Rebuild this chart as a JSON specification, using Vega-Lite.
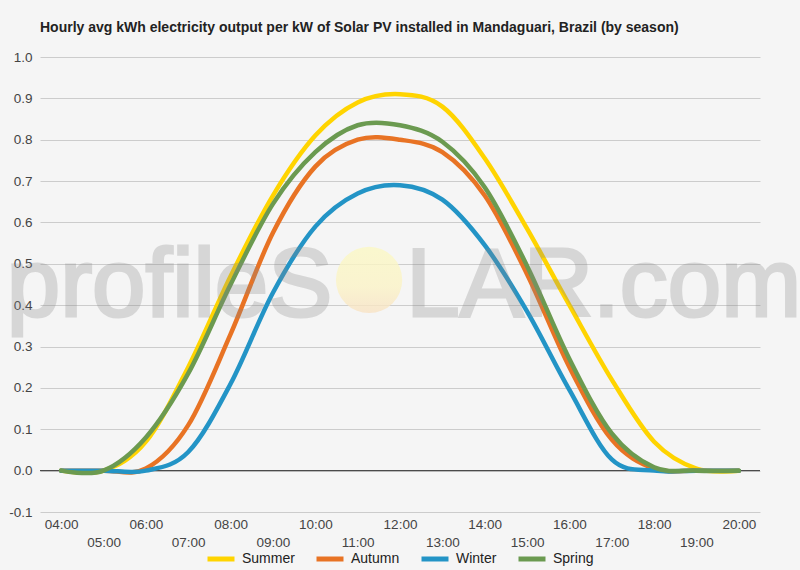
{
  "$schema": "https://vega.github.io/schema/vega-lite/v6.json",
  "autosize": "none",
  "width": 720,
  "height": 455,
  "padding": {"left": 40, "top": 57, "right": 40, "bottom": 58},
  "background": "#f5f5f5",
  "title": {
    "text": "Hourly avg kWh electricity output per kW of Solar PV installed in Mandaguari, Brazil (by season)",
    "anchor": "start",
    "frame": "group",
    "font": "Liberation Sans",
    "fontSize": 14,
    "fontWeight": "bold",
    "color": "#222222",
    "baseline": "alphabetic",
    "offset": 4
  },
  "config": {
    "view": {"stroke": null},
    "font": "Liberation Sans"
  },
  "datasets": {
    "output": [
      {"hour": 4, "season": "Summer", "kwh": 0},
      {"hour": 5, "season": "Summer", "kwh": 0},
      {"hour": 6, "season": "Summer", "kwh": 0.07},
      {"hour": 7, "season": "Summer", "kwh": 0.25},
      {"hour": 8, "season": "Summer", "kwh": 0.47},
      {"hour": 9, "season": "Summer", "kwh": 0.665},
      {"hour": 10, "season": "Summer", "kwh": 0.81},
      {"hour": 11, "season": "Summer", "kwh": 0.89},
      {"hour": 12, "season": "Summer", "kwh": 0.91},
      {"hour": 13, "season": "Summer", "kwh": 0.88},
      {"hour": 14, "season": "Summer", "kwh": 0.755},
      {"hour": 15, "season": "Summer", "kwh": 0.585},
      {"hour": 16, "season": "Summer", "kwh": 0.4},
      {"hour": 17, "season": "Summer", "kwh": 0.22},
      {"hour": 18, "season": "Summer", "kwh": 0.07},
      {"hour": 19, "season": "Summer", "kwh": 0.005},
      {"hour": 20, "season": "Summer", "kwh": 0},
      {"hour": 4, "season": "Autumn", "kwh": 0},
      {"hour": 5, "season": "Autumn", "kwh": 0},
      {"hour": 6, "season": "Autumn", "kwh": 0.005},
      {"hour": 7, "season": "Autumn", "kwh": 0.11},
      {"hour": 8, "season": "Autumn", "kwh": 0.33},
      {"hour": 9, "season": "Autumn", "kwh": 0.575},
      {"hour": 10, "season": "Autumn", "kwh": 0.735},
      {"hour": 11, "season": "Autumn", "kwh": 0.8},
      {"hour": 12, "season": "Autumn", "kwh": 0.8},
      {"hour": 13, "season": "Autumn", "kwh": 0.77},
      {"hour": 14, "season": "Autumn", "kwh": 0.665},
      {"hour": 15, "season": "Autumn", "kwh": 0.475},
      {"hour": 16, "season": "Autumn", "kwh": 0.25},
      {"hour": 17, "season": "Autumn", "kwh": 0.075},
      {"hour": 18, "season": "Autumn", "kwh": 0.005},
      {"hour": 19, "season": "Autumn", "kwh": 0},
      {"hour": 20, "season": "Autumn", "kwh": 0},
      {"hour": 4, "season": "Winter", "kwh": 0},
      {"hour": 5, "season": "Winter", "kwh": 0},
      {"hour": 6, "season": "Winter", "kwh": 0},
      {"hour": 7, "season": "Winter", "kwh": 0.045},
      {"hour": 8, "season": "Winter", "kwh": 0.21},
      {"hour": 9, "season": "Winter", "kwh": 0.43},
      {"hour": 10, "season": "Winter", "kwh": 0.59},
      {"hour": 11, "season": "Winter", "kwh": 0.67},
      {"hour": 12, "season": "Winter", "kwh": 0.69},
      {"hour": 13, "season": "Winter", "kwh": 0.655},
      {"hour": 14, "season": "Winter", "kwh": 0.545},
      {"hour": 15, "season": "Winter", "kwh": 0.385},
      {"hour": 16, "season": "Winter", "kwh": 0.195},
      {"hour": 17, "season": "Winter", "kwh": 0.027},
      {"hour": 18, "season": "Winter", "kwh": 0},
      {"hour": 19, "season": "Winter", "kwh": 0},
      {"hour": 20, "season": "Winter", "kwh": 0},
      {"hour": 4, "season": "Spring", "kwh": 0},
      {"hour": 5, "season": "Spring", "kwh": 0},
      {"hour": 6, "season": "Spring", "kwh": 0.08},
      {"hour": 7, "season": "Spring", "kwh": 0.235},
      {"hour": 8, "season": "Spring", "kwh": 0.45},
      {"hour": 9, "season": "Spring", "kwh": 0.645},
      {"hour": 10, "season": "Spring", "kwh": 0.77},
      {"hour": 11, "season": "Spring", "kwh": 0.835},
      {"hour": 12, "season": "Spring", "kwh": 0.835},
      {"hour": 13, "season": "Spring", "kwh": 0.795},
      {"hour": 14, "season": "Spring", "kwh": 0.685},
      {"hour": 15, "season": "Spring", "kwh": 0.495},
      {"hour": 16, "season": "Spring", "kwh": 0.27},
      {"hour": 17, "season": "Spring", "kwh": 0.09},
      {"hour": 18, "season": "Spring", "kwh": 0.008},
      {"hour": 19, "season": "Spring", "kwh": 0},
      {"hour": 20, "season": "Spring", "kwh": 0}
    ],
    "single": [{}]
  },
  "layer": [
    {
      "data": {"name": "single"},
      "mark": {"type": "rule", "color": "#333333", "strokeWidth": 1},
      "encoding": {
        "y": {"datum": 0, "type": "quantitative", "scale": {"domain": [-0.1, 1.0], "nice": false, "zero": false}}
      }
    },
    {
      "data": {"name": "output"},
      "mark": {"type": "line", "interpolate": "cardinal", "strokeWidth": 4.5, "strokeCap": "round", "clip": true},
      "encoding": {
        "x": {
          "field": "hour",
          "type": "quantitative",
          "scale": {"domain": [3.5, 20.5], "nice": false, "zero": false},
          "axis": {
            "title": null,
            "values": [4, 5, 6, 7, 8, 9, 10, 11, 12, 13, 14, 15, 16, 17, 18, 19, 20],
            "labelExpr": "(datum.value < 10 ? '0' : '') + datum.value + ':00'",
            "labelFont": "Liberation Sans",
            "labelFontSize": 13.5,
            "labelColor": "#444444",
            "labelBaseline": "top",
            "labelPadding": {"condition": {"test": "datum.value % 2 == 1", "value": 23}, "value": 5},
            "ticks": false,
            "domain": false,
            "grid": false,
            "labelOverlap": false,
            "labelFlush": false
          }
        },
        "y": {
          "field": "kwh",
          "type": "quantitative",
          "scale": {"domain": [-0.1, 1.0], "nice": false, "zero": false},
          "axis": {
            "title": null,
            "values": [-0.1, -0.05, 0, 0.05, 0.1, 0.15, 0.2, 0.25, 0.3, 0.35, 0.4, 0.45, 0.5, 0.55, 0.6, 0.65, 0.7, 0.75, 0.8, 0.85, 0.9, 0.95, 1.0],
            "labelExpr": "abs(round(datum.value * 100)) % 10 == 0 ? (datum.value < 0 ? '-' : '') + format(abs(datum.value), '.1f') : ''",
            "labelFont": "Liberation Sans",
            "labelFontSize": 13.5,
            "labelColor": "#444444",
            "labelPadding": 8,
            "ticks": false,
            "domain": false,
            "grid": true,
            "gridColor": {"condition": {"test": "abs(round(datum.value * 100)) % 10 != 0", "value": "#e4e4e4"}, "value": "#cccccc"},
            "labelOverlap": false,
            "labelFlush": false
          }
        },
        "color": {
          "field": "season",
          "type": "nominal",
          "sort": ["Summer", "Autumn", "Winter", "Spring"],
          "scale": {"domain": ["Summer", "Autumn", "Winter", "Spring"], "range": ["#ffd400", "#e87324", "#2394c6", "#6b9a50"]},
          "legend": {
            "title": null,
            "orient": "none",
            "legendX": 165,
            "legendY": 486,
            "direction": "horizontal",
            "symbolType": "stroke",
            "symbolSize": 729,
            "symbolStrokeWidth": 5,
            "labelFont": "Liberation Sans",
            "labelFontSize": 14,
            "labelColor": "#222222",
            "labelOffset": 5,
            "columnPadding": 11
          }
        }
      }
    },
    {
      "data": {"name": "single"},
      "mark": {
        "type": "point",
        "shape": "circle",
        "filled": true,
        "size": 4400,
        "opacity": 0.8,
        "color": {"gradient": "linear", "x1": 0, "y1": 0, "x2": 0, "y2": 1, "stops": [{"offset": 0, "color": "#fbf8c4"}, {"offset": 0.6, "color": "#fbf3c6"}, {"offset": 1, "color": "#f8e2c4"}]}
      },
      "encoding": {
        "x": {"datum": 11.27, "type": "quantitative"},
        "y": {"datum": 0.461, "type": "quantitative"}
      }
    },
    {
      "data": {"name": "single"},
      "mark": {"type": "text", "text": "profileS", "align": "right", "baseline": "alphabetic", "font": "Liberation Sans", "fontSize": 96, "fill": "#888888", "stroke": "#888888", "strokeWidth": 3, "opacity": 0.28},
      "encoding": {
        "x": {"datum": 10.4, "type": "quantitative"},
        "y": {"datum": 0.374, "type": "quantitative"}
      }
    },
    {
      "data": {"name": "single"},
      "mark": {"type": "text", "text": "LAR.com", "align": "left", "baseline": "alphabetic", "font": "Liberation Sans", "fontSize": 96, "fill": "#888888", "stroke": "#888888", "strokeWidth": 3, "opacity": 0.28},
      "encoding": {
        "x": {"datum": 12.15, "type": "quantitative"},
        "y": {"datum": 0.374, "type": "quantitative"}
      }
    }
  ]
}
